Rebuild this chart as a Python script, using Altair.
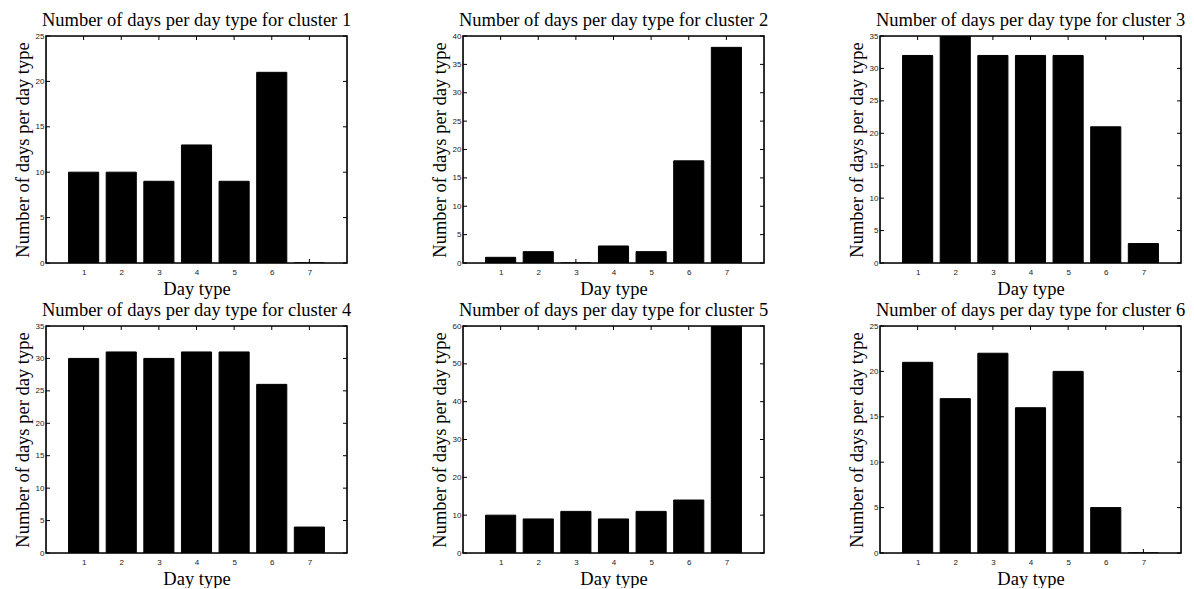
import altair as alt
import pandas as pd

day_types = [1, 2, 3, 4, 5, 6, 7]
cluster1 = [10, 10, 9, 13, 9, 21, 0]
cluster2 = [1, 2, 0, 3, 2, 18, 38]
cluster3 = [32, 35, 32, 32, 32, 21, 3]
cluster4 = [30, 31, 30, 31, 31, 26, 4]
cluster5 = [10, 9, 11, 9, 11, 14, 60]
cluster6 = [21, 17, 22, 16, 20, 5, 0]
clusters = [cluster1, cluster2, cluster3, cluster4, cluster5, cluster6]
y_max = [25, 40, 35, 35, 60, 25]
y_step = [5, 5, 5, 5, 10, 5]
titles = [f"Number of days per day type for cluster {k}" for k in range(1, 7)]

W, H = 301, 227
SERIF = "Liberation Serif"
SANS = "Liberation Sans"
FS = 18.5
TICK = 4


def panel(i):
    vals = clusters[i]
    ymax = y_max[i]
    yticks = list(range(0, ymax + 1, y_step[i]))
    df = pd.DataFrame({"day": day_types, "count": vals})
    xscale = alt.Scale(domain=[0, 8], nice=False, zero=False)
    yscale = alt.Scale(domain=[0, ymax], nice=False, zero=True)
    x_axis = alt.Axis(values=day_types, title="Day type", ticks=False, domain=False,
                      grid=False, labelFont=SANS, labelFontSize=8, labelColor="#222",
                      labelPadding=5, labelOverlap=False, titleFont=SERIF,
                      titleFontSize=FS, titleFontWeight="normal", titleColor="black",
                      titlePadding=3)
    y_axis = alt.Axis(values=yticks, title="Number of days per day type", ticks=False,
                      domain=False, grid=False, labelFont=SANS, labelFontSize=8,
                      labelColor="#222", labelPadding=2, labelOverlap=False,
                      titleFont=SERIF, titleFontSize=FS, titleFontWeight="normal",
                      titleColor="black", titlePadding=3)
    bars = alt.Chart(df).transform_calculate(
        x0="datum.day - 0.4", x1="datum.day + 0.4"
    ).mark_rect(color="black", stroke="black", strokeWidth=1, clip=True).encode(
        x=alt.X("x0:Q", scale=xscale, axis=x_axis),
        x2="x1:Q",
        y=alt.Y("count:Q", scale=yscale, axis=y_axis),
        y2=alt.datum(0),
    )
    ydf = pd.DataFrame({"v": yticks})
    xdf = pd.DataFrame({"v": day_types})
    left = alt.Chart(ydf).mark_rule(color="black", strokeWidth=1).encode(
        y=alt.Y("v:Q", scale=yscale, axis=y_axis), x=alt.value(0), x2=alt.value(TICK))
    right = alt.Chart(ydf).mark_rule(color="black", strokeWidth=1).encode(
        y=alt.Y("v:Q", scale=yscale, axis=y_axis), x=alt.value(W - TICK), x2=alt.value(W))
    top = alt.Chart(xdf).mark_rule(color="black", strokeWidth=1).encode(
        x=alt.X("v:Q", scale=xscale, axis=x_axis), y=alt.value(0), y2=alt.value(TICK))
    bottom = alt.Chart(xdf).mark_rule(color="black", strokeWidth=1).encode(
        x=alt.X("v:Q", scale=xscale, axis=x_axis), y=alt.value(H - TICK), y2=alt.value(H))
    frame = alt.Chart(xdf).transform_filter("datum.v == 1").mark_rect(
        fillOpacity=0, stroke="black", strokeWidth=1.6).encode(
        x=alt.value(0), x2=alt.value(W), y=alt.value(0), y2=alt.value(H))
    tdf = pd.DataFrame({"t": [titles[i]]})
    title = alt.Chart(tdf).mark_text(font=SERIF, fontSize=FS, color="black",
                                     baseline="alphabetic", align="center").encode(
        text="t:N", x=alt.value(W / 2), y=alt.value(-10))
    return alt.layer(bars, left, right, top, bottom, frame, title).properties(
        width=W, height=H)


chart = alt.concat(*[panel(i) for i in range(6)], columns=3,
                   spacing={"row": 63, "column": 116}, bounds="flush").properties(
    padding={"left": 12, "top": 10, "right": 0, "bottom": 0}
).configure_view(stroke=None).configure(background="white")

chart.save("out.html", embed_options={"renderer": "svg", "actions": False})
